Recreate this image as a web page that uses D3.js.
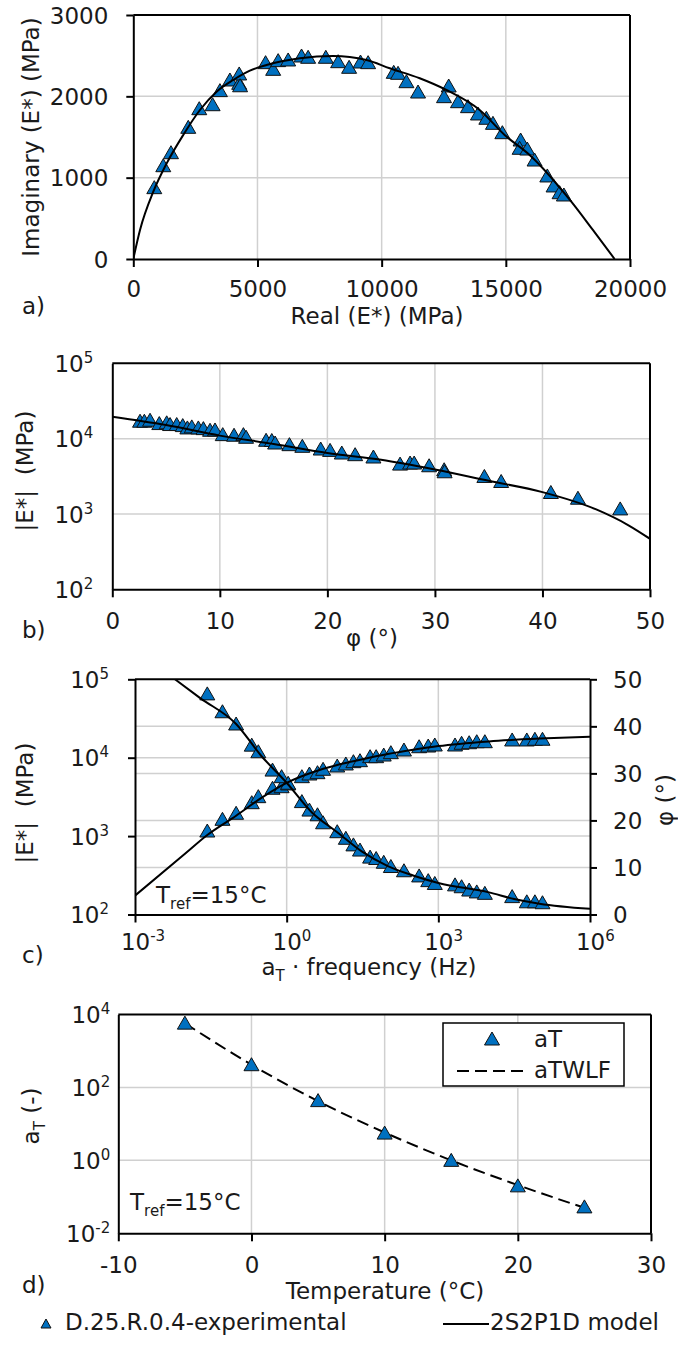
<!DOCTYPE html>
<html><head><meta charset="utf-8">
<script src="https://cdn.jsdelivr.net/npm/d3@7"></script>
<style>
body{margin:0;background:#fff}
svg text{font-family:"DejaVu Sans",Verdana,sans-serif;fill:#1a1a1a}
</style>
</head><body>
<svg id="chart" width="678" height="1350"></svg>
<script>
// ---------- DATA ----------
// a) Cole-Cole plane
const aExpReal = [845,1207,1517,2213,2655,3194,3488,3890,4264,4264,4300,5326,5632,5833,6235,6774,7040,7752,8248,8690,9148,9455,10486,10660,10998,11465,12700,12511,13074,13476,13878,14216,14482,14860,15596,15556,15865,16159,16670,16923,17165,17338];
const aExpImag = [877,1147,1307,1619,1848,1897,2070,2201,2160,2275,2130,2414,2332,2439,2447,2496,2480,2480,2426,2357,2422,2414,2295,2283,2180,2053,2127,1996,1934,1873,1783,1730,1668,1553,1463,1361,1352,1217,1021,898,815,787];
const aModelReal = [0,270,805,1344,2011,2683,3354,4022,4694,5365,6705,8045,9388,10325,11533,12606,13946,14952,15958,17636,18505,19380];
const aModelImag = [0,357,828,1176,1525,1832,2057,2201,2316,2385,2467,2496,2447,2345,2222,2078,1832,1525,1279,705,357,0];
const aXTicks = [0,5000,10000,15000,20000];
const aYTicks = [0,1000,2000,3000];

// b) Black space
const bExpPhi = [2.58,2.98,3.51,4.37,5.06,5.37,5.99,6.55,6.98,7.39,8.0,8.47,9.09,9.55,10.27,11.32,12.19,12.44,14.3,14.83,15.14,16.47,17.67,19.38,20.25,21.34,22.58,24.28,26.76,27.69,28.07,29.46,30.86,30.9,34.6,36.16,40.78,43.3,47.23];
const bExpE = [17022,17022,17539,15849,16218,15382,15382,14894,13868,14322,13868,13583,12912,13032,11298,11092,11298,10423,9506,9441,8750,8318,7907,7278,6982,6442,6124,5702,4592,4742,4742,4365,3864,3631,3148,2698,1928,1618,1167];
const bModelPhi = [0,5,10,15,20,25,30,35,40,45,48,50];
const bModelE = [19498,15136,10965,8511,6457,5248,3890,2754,1950,1148,708,468];
const bXTicks = [0,10,20,30,40,50];
const bYTicks = [1e2,1e3,1e4,1e5];

// c) Master curves
const cExpFreq = [0.0269,0.0537,0.1,0.204,0.275,0.525,0.794,1.07,2.0,2.82,4.07,5.25,10,14.8,20.9,28.2,44.7,58.9,83.2,115,209,417,631,851,2138,2884,4074,5754,8318,28840,56234,81283,114815];
const cExpE = [1161,1637,1954,2667,3184,4074,4266,4624,5728,6194,6442,7112,7834,8318,8892,9162,10304,10304,10814,11588,12531,13804,14093,14521,14521,15276,15524,15996,15996,16827,16827,17179,17179];
const cExpPhi = [46.9,43.1,40.5,36.0,34.6,30.7,29.3,27.9,24.0,22.2,21.2,19.5,17.6,16.2,14.8,13.7,12.2,11.9,11.1,10.2,9.3,8.2,7.2,6.6,6.3,5.9,5.2,4.8,4.5,3.8,2.7,2.7,2.5];
const cModelEFreq = [0.001,0.01,0.0269,0.1,0.316,1,3.16,10,31.6,100,316,1000,10000,100000,1000000];
const cModelE = [174,604,1033,1820,3076,4786,6486,8091,9550,11117,12589,14060,16144,17539,18535];
const cModelPhiFreq = [0.00617,0.0195,0.1,0.316,1,3.16,10,31.6,100,316,1000,10000,31623,100000,1000000];
const cModelPhi = [50.0,46.0,40.5,33.7,28.0,21.7,17.5,13.3,10.3,8.3,6.7,4.7,3.3,2.3,1.2];
const cXTicks = [1e-3,1e0,1e3,1e6];
const cYTicks = [1e2,1e3,1e4,1e5];
const cPhiTicks = [0,10,20,30,40,50];

// d) Shift factors
const dTemp = [-5,0,5,10,15,20,25];
const dAT = [5800,420,43.5,5.6,1.0,0.2,0.053];
const dWLFTemp = [-5,0,5,10,15,20,25];
const dWLF = [5750,420,42,5.8,1.0,0.21,0.05];
const dXTicks = [-10,0,10,20,30];
const dYTicks = [1e-2,1e0,1e2,1e4];

// ---------- DRAWING ----------
const svg = d3.select("#chart");
svg.append("rect").attr("width",678).attr("height",1350).attr("fill","#fff");
const FS = 23, SUP = 15;
const BLUE = "#0070C0", GRID = "#d0d0d0";
const tri = "M0,-7L7.5,6L-7.5,6Z";
const plain = d => String(d);

function grid(g, xs, ys, X, Y, p){
  xs.forEach(v=>g.append("line").attr("x1",X(v)).attr("x2",X(v)).attr("y1",p.y0).attr("y2",p.y1).attr("stroke",GRID).attr("stroke-width",1.5));
  ys.forEach(([v,s])=>g.append("line").attr("x1",p.x0).attr("x2",p.x1).attr("y1",s(v)).attr("y2",s(v)).attr("stroke",GRID).attr("stroke-width",1.5));
}
function frame(g,p){
  g.append("line").attr("x1",p.x0).attr("x2",p.x1).attr("y1",p.y0).attr("y2",p.y0).attr("stroke","#000").attr("stroke-width",2);
  g.append("line").attr("x1",p.x1).attr("x2",p.x1).attr("y1",p.y0).attr("y2",p.y1).attr("stroke","#000").attr("stroke-width",2);
}
function styleAxis(ax){
  ax.attr("font-size",FS).attr("font-family","DejaVu Sans").attr("color","#000");
  ax.select(".domain").attr("stroke-width",2);
  ax.selectAll(".tick line").attr("stroke-width",2);
  ax.selectAll("text").attr("fill","#1a1a1a");
}
function logText(sel){
  sel.each(function(d){
    const t=d3.select(this); const e=Math.round(Math.log10(d));
    t.text(null);
    t.append("tspan").text("10");
    t.append("tspan").attr("dy",-9).attr("font-size",SUP).text(String(e));
  });
}
function clip(id,p){
  svg.append("clipPath").attr("id",id).append("rect").attr("x",p.x0).attr("y",p.y0).attr("width",p.x1-p.x0).attr("height",p.y1-p.y0);
}
function markers(g, xs, ys, X, Y){
  g.selectAll(null).data(xs.map((x,i)=>[x,ys[i]])).join("path")
   .attr("d",tri).attr("transform",d=>`translate(${X(d[0])},${Y(d[1])})`)
   .attr("fill",BLUE).attr("stroke","#111").attr("stroke-width",1);
}
function curve(g, xs, ys, X, Y, clipId, dash){
  const line = d3.line().x(d=>X(d[0])).y(d=>Y(d[1])).curve(d3.curveMonotoneX);
  const p = g.append("path").attr("d",line(xs.map((x,i)=>[x,ys[i]])))
   .attr("fill","none").attr("stroke","#000").attr("stroke-width",2).attr("clip-path",`url(#${clipId})`);
  if(dash) p.attr("stroke-dasharray",dash);
}
function label(x,y,txt,anchor){
  return svg.append("text").attr("x",x).attr("y",y).attr("font-size",FS).attr("text-anchor",anchor||"start").text(txt);
}
function vlabel(x,y){
  return svg.append("text").attr("transform",`translate(${x},${y}) rotate(-90)`).attr("font-size",FS).attr("text-anchor","middle");
}

// ---- Panel a ----
(function(){
  const p={x0:133.3,x1:630,y0:15,y1:259};
  const X=d3.scaleLinear().domain([0,20000]).range([p.x0,p.x1]);
  const Y=d3.scaleLinear().domain([0,3000]).range([p.y1,p.y0]);
  const g=svg.append("g");
  clip("clipA",p);
  grid(g,[5000,10000,15000],[[1000,Y],[2000,Y]],X,Y,p);
  frame(g,p);
  const ax=g.append("g").attr("transform",`translate(0,${p.y1})`).call(d3.axisBottom(X).tickValues(aXTicks).tickSize(8).tickSizeOuter(0).tickFormat(plain));
  styleAxis(ax); ax.selectAll("text").attr("y",38).attr("dy",null);
  const ay=g.append("g").attr("transform",`translate(${p.x0},0)`).call(d3.axisLeft(Y).tickValues(aYTicks).tickSize(7).tickSizeOuter(0).tickFormat(plain));
  styleAxis(ay); ay.selectAll("text").attr("x",-25).attr("dy","0.35em");
  markers(g,aExpReal,aExpImag,X,Y);
  curve(g,aModelReal,aModelImag,X,Y,"clipA");
  label(22,314,"a)");
  label(377,324,"Real (E*) (MPa)","middle");
  vlabel(39,137).text("Imaginary (E*) (MPa)");
})();

// ---- Panel b ----
(function(){
  const p={x0:112.3,x1:650,y0:363.3,y1:589.3};
  const X=d3.scaleLinear().domain([0,50]).range([p.x0,p.x1]);
  const Y=d3.scaleLog().domain([1e2,1e5]).range([p.y1,p.y0]);
  const g=svg.append("g");
  clip("clipB",p);
  grid(g,[10,20,30,40],[[1e3,Y],[1e4,Y]],X,Y,p);
  frame(g,p);
  const ax=g.append("g").attr("transform",`translate(0,${p.y1})`).call(d3.axisBottom(X).tickValues(bXTicks).tickSize(8).tickSizeOuter(0).tickFormat(plain));
  styleAxis(ax); ax.selectAll("text").attr("y",40).attr("dy",null);
  const ay=g.append("g").attr("transform",`translate(${p.x0},0)`).call(d3.axisLeft(Y).tickValues(bYTicks).tickSize(0).tickSizeOuter(0));
  styleAxis(ay); ay.selectAll("text").attr("x",-19).attr("dy","0.36em").call(logText);
  markers(g,bExpPhi,bExpE,X,Y);
  curve(g,bModelPhi,bModelE,X,Y,"clipB");
  label(22,638,"b)");
  label(372,646,"φ (°)","middle");
  vlabel(33,471).text("|E*|\u00a0 (MPa)");
})();

// ---- Panel c ----
(function(){
  const p={x0:135,x1:590,y0:679.3,y1:914.5};
  const X=d3.scaleLog().domain([1e-3,1e6]).range([p.x0,p.x1]);
  const Y=d3.scaleLog().domain([1e2,1e5]).range([p.y1,p.y0]);
  const Yr=d3.scaleLinear().domain([0,50]).range([p.y1,p.y0]);
  const g=svg.append("g");
  clip("clipC",p);
  grid(g,[1,1000],[[1e3,Y],[1e4,Y],[10,Yr],[20,Yr],[30,Yr],[40,Yr]],X,Y,p);
  g.append("line").attr("x1",p.x0).attr("x2",p.x1).attr("y1",p.y0).attr("y2",p.y0).attr("stroke","#000").attr("stroke-width",2);
  const ax=g.append("g").attr("transform",`translate(0,${p.y1})`).call(d3.axisBottom(X).tickValues(cXTicks).tickSize(8).tickSizeOuter(0));
  styleAxis(ax); ax.selectAll("text").attr("y",35).attr("dy",null).attr("text-anchor","start").attr("x",-14.6).call(logText);
  const ay=g.append("g").attr("transform",`translate(${p.x0},0)`).call(d3.axisLeft(Y).tickValues(cYTicks).tickSize(7).tickSizeOuter(0));
  styleAxis(ay); ay.selectAll("text").attr("x",-26).attr("dy","0.36em").call(logText);
  const ar=g.append("g").attr("transform",`translate(${p.x1},0)`).call(d3.axisRight(Yr).tickValues(cPhiTicks).tickSize(7).tickSizeOuter(0).tickFormat(plain));
  styleAxis(ar); ar.selectAll("text").attr("x",23).attr("dy","0.35em");
  markers(g,cExpFreq,cExpE,X,Y);
  markers(g,cExpFreq,cExpPhi,X,Yr);
  curve(g,cModelEFreq,cModelE,X,Y,"clipC");
  curve(g,cModelPhiFreq,cModelPhi,X,Yr,"clipC");
  const t=label(156,903,"T"); t.append("tspan").attr("dy",6).attr("font-size",SUP).text("ref"); t.append("tspan").attr("dy",-6).text("=15°C");
  label(22,963,"c)");
  const xl=label(369,975,"","middle");
  xl.append("tspan").text("a"); xl.append("tspan").attr("dy",6).attr("font-size",SUP).text("T"); xl.append("tspan").attr("dy",-6).text(" · frequency (Hz)");
  vlabel(33,803).text("|E*|\u00a0 (MPa)");
  vlabel(673,800).text("φ (°)");
})();

// ---- Panel d ----
(function(){
  const p={x0:118.3,x1:651,y0:1014.5,y1:1233.3};
  const X=d3.scaleLinear().domain([-10,30]).range([p.x0,p.x1]);
  const Y=d3.scaleLog().domain([1e-2,1e4]).range([p.y1,p.y0]);
  const g=svg.append("g");
  clip("clipD",p);
  grid(g,[0,10,20],[[1e0,Y],[1e2,Y]],X,Y,p);
  frame(g,p);
  const ax=g.append("g").attr("transform",`translate(0,${p.y1})`).call(d3.axisBottom(X).tickValues(dXTicks).tickSize(8).tickSizeOuter(0).tickFormat(plain));
  styleAxis(ax); ax.selectAll("text").attr("y",40).attr("dy",null);
  const ay=g.append("g").attr("transform",`translate(${p.x0},0)`).call(d3.axisLeft(Y).tickValues(dYTicks).tickSize(0).tickSizeOuter(0));
  styleAxis(ay); ay.selectAll("text").attr("x",-8).attr("dy","0.36em").call(logText);
  curve(g,dWLFTemp,dWLF,X,Y,"clipD","12,6");
  markers(g,dTemp,dAT,X,Y);
  // legend
  const lg=g.append("g");
  lg.append("rect").attr("x",443).attr("y",1023).attr("width",181).attr("height",63).attr("fill","#fff").attr("stroke","#000").attr("stroke-width",1.5);
  lg.append("path").attr("d",tri).attr("transform","translate(492,1039)").attr("fill",BLUE).attr("stroke","#111").attr("stroke-width",1);
  lg.append("line").attr("x1",457).attr("x2",526).attr("y1",1071).attr("y2",1071).attr("stroke","#000").attr("stroke-width",2).attr("stroke-dasharray","12,6");
  label(534,1047,"aT"); label(534,1078,"aTWLF");
  const t=label(130,1210,"T"); t.append("tspan").attr("dy",6).attr("font-size",SUP).text("ref"); t.append("tspan").attr("dy",-6).text("=15°C");
  label(22,1293,"d)");
  label(385,1299,"Temperature (°C)","middle");
  const yl=vlabel(39,1116);
  yl.append("tspan").text("a"); yl.append("tspan").attr("dy",6).attr("font-size",SUP).text("T"); yl.append("tspan").attr("dy",-6).text(" (-)");
})();

// ---- Bottom legend ----
svg.append("path").attr("d","M0,-5L5,4L-5,4Z").attr("transform","translate(46,1324)").attr("fill",BLUE).attr("stroke","#111").attr("stroke-width",1);
label(65,1330,"D.25.R.0.4-experimental");
svg.append("line").attr("x1",443).attr("x2",489).attr("y1",1324).attr("y2",1324).attr("stroke","#000").attr("stroke-width",2);
label(490,1330,"2S2P1D model");
</script>
</body></html>
